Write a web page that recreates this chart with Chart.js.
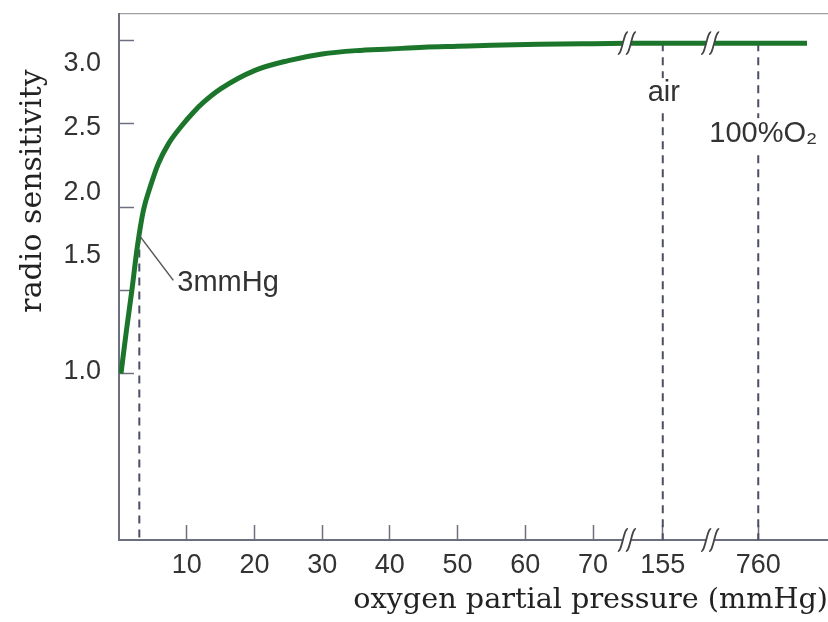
<!DOCTYPE html>
<html>
<head>
<meta charset="utf-8">
<script src="https://cdn.jsdelivr.net/npm/chart.js@4.4.1/dist/chart.umd.min.js"></script>
<style>
  html, body { margin: 0; padding: 0; background: #fff; }
</style>
</head>
<body>
<canvas id="myChart" width="828" height="622"></canvas>
<script>
// curve: oxygen partial pressure (mmHg) -> radio sensitivity
let pressure = [0.3, 0.6, 1.1, 1.9, 2.7, 3.6, 4.6, 5.8, 7.3, 9.3, 11, 12.5, 15, 20, 25, 30, 35, 40, 45, 50, 55, 62, 70, 75, 155, 760, 900];
let sensitivity = [1.00, 1.10, 1.26, 1.50, 1.76, 1.98, 2.12, 2.26, 2.38, 2.49, 2.57, 2.63, 2.71, 2.82, 2.88, 2.92, 2.94, 2.95, 2.96, 2.966, 2.972, 2.978, 2.982, 2.984, 2.985, 2.985, 2.985];

let xTickValues = [10, 20, 30, 40, 50, 60, 70, 155, 760];
let xTickLabels = ['10', '20', '30', '40', '50', '60', '70', '155', '760'];
let yTickValues = [1.0, 1.5, 2.0, 2.5, 3.0];
let yTickLabels = ['1.0', '1.5', '2.0', '2.5', '3.0'];
// the printed y labels do not sit on their tick marks in the original
let yLabelAt = [1.01, 1.71, 2.09, 2.48, 2.86];

// dashed markers
let markerPressure = [3, 155, 760];
let markerValue = [1.83, 2.985, 2.985];
let markerText = ['3mmHg', 'air', '100%O\u2082'];

// broken x axis: pressure -> position on the linear scale
let axisKnots = [0, 75, 155, 760, 900];
let axisSpots = [0, 75, 80.3, 94.4, 101.6];
let breakSpots = [75, 87.3];

function pos(p) {
  for (let i = 1; i < axisKnots.length; i++) {
    if (p <= axisKnots[i]) {
      let t = (p - axisKnots[i - 1]) / (axisKnots[i] - axisKnots[i - 1]);
      return axisSpots[i - 1] + t * (axisSpots[i] - axisSpots[i - 1]);
    }
  }
  return axisSpots[axisSpots.length - 1];
}

let axisColor = '#6c6f80';
let textColor = '#333';
let labelFont = '29px "Liberation Sans"';

let extras = {
  id: 'extras',
  beforeDatasetsDraw(chart) {
    let {ctx, scales: {x, y}} = chart;
    ctx.save();
    ctx.strokeStyle = '#4b4f66';
    ctx.lineWidth = 2;
    ctx.setLineDash([8, 6]);
    markerPressure.forEach((p, i) => {
      let px = x.getPixelForValue(pos(p));
      ctx.beginPath();
      ctx.moveTo(px, y.getPixelForValue(markerValue[i]));
      ctx.lineTo(px, y.bottom);
      ctx.stroke();
    });
    ctx.restore();
  },
  afterDatasetsDraw(chart) {
    let {ctx, scales: {x, y}} = chart;
    ctx.save();

    // break marks on the axis and on the curve
    breakSpots.forEach(b => {
      let px = x.getPixelForValue(b);
      [[y.bottom, 11], [y.getPixelForValue(markerValue[1]), 11]].forEach(([py, h]) => {
        ctx.fillStyle = '#fff';
        ctx.fillRect(px - 4, py - 5, 8, 10);
        ctx.strokeStyle = '#444';
        ctx.lineWidth = 1.8;
        [-4, 4].forEach(dx => {
          ctx.beginPath();
          ctx.moveTo(px + dx - 5, py + h);
          ctx.bezierCurveTo(px + dx - 1, py + h + 1, px + dx + 1, py - h - 1, px + dx + 5, py - h);
          ctx.stroke();
        });
      });
    });

    ctx.font = labelFont;
    ctx.fillStyle = textColor;
    ctx.textBaseline = 'middle';

    // 3mmHg with leader line
    let mx = x.getPixelForValue(pos(markerPressure[0]));
    let my = y.getPixelForValue(markerValue[0]);
    ctx.strokeStyle = '#555';
    ctx.lineWidth = 1.5;
    ctx.beginPath();
    ctx.moveTo(mx, my);
    ctx.lineTo(mx + 34, my + 45);
    ctx.stroke();
    ctx.textAlign = 'left';
    ctx.fillText(markerText[0], mx + 38, my + 48);

    // air
    mx = x.getPixelForValue(pos(markerPressure[1]));
    my = y.getPixelForValue(markerValue[1]);
    let w = ctx.measureText(markerText[1]).width;
    ctx.fillStyle = '#fff';
    ctx.fillRect(mx + 1 - w / 2 - 3, my + 50 - 15, w + 6, 30);
    ctx.fillStyle = textColor;
    ctx.textAlign = 'center';
    ctx.fillText(markerText[1], mx + 1, my + 50);

    // 100%O2
    mx = x.getPixelForValue(pos(markerPressure[2]));
    my = y.getPixelForValue(markerValue[2]);
    w = ctx.measureText(markerText[2]).width;
    ctx.fillStyle = '#fff';
    ctx.fillRect(mx - 52, my + 91 - 16, w + 6, 32);
    ctx.fillStyle = textColor;
    ctx.textAlign = 'left';
    ctx.fillText(markerText[2], mx - 49, my + 91);

    ctx.restore();
  },
  afterDraw(chart) {
    // y axis title, placed high like the original
    let {ctx, chartArea} = chart;
    ctx.save();
    ctx.translate(chart.scales.y.left + 33, chartArea.top + 177);
    ctx.rotate(-Math.PI / 2);
    ctx.font = '30px "DejaVu Serif"';
    ctx.fillStyle = '#222';
    ctx.textAlign = 'center';
    ctx.textBaseline = 'middle';
    ctx.fillText('radio sensitivity', 0, 0);
    ctx.restore();
  }
};

let curve = pressure.map((p, i) => ({x: pos(p), y: sensitivity[i]}));

new Chart(document.getElementById('myChart'), {
  type: 'line',
  data: {
    datasets: [{
      data: curve,
      borderColor: '#1b762b',
      borderWidth: 5,
      pointRadius: 0,
      cubicInterpolationMode: 'monotone',
      fill: false
    }]
  },
  options: {
    responsive: false,
    animation: false,
    layout: { padding: 0 },
    plugins: {
      legend: { display: false },
      tooltip: { enabled: false }
    },
    scales: {
      x: {
        type: 'linear',
        position: 'bottom',
        min: 0,
        max: 104.7,
        afterBuildTicks: s => { s.ticks = xTickValues.map(p => ({value: pos(p)})); },
        afterFit: s => { s.height = 82; s.paddingLeft = 0; s.paddingRight = 0; },
        ticks: {
          autoSkip: false,
          maxRotation: 0,
          padding: 24,
          color: textColor,
          font: { family: 'Liberation Sans', size: 27 },
          callback: (v, i) => xTickLabels[i]
        },
        grid: { drawOnChartArea: false, drawTicks: true, tickLength: -15, tickWidth: 1.5, color: axisColor },
        border: { color: axisColor, width: 2 },
        title: {
          display: true,
          text: 'oxygen partial pressure (mmHg)',
          align: 'end',
          color: '#222',
          font: { family: 'DejaVu Serif', size: 28.7 },
          padding: { top: 0, bottom: 4 }
        }
      },
      xTop: {
        type: 'linear',
        position: 'top',
        min: 0,
        max: 104.7,
        afterFit: s => { s.height = 14; },
        ticks: { display: false },
        grid: { display: false, drawTicks: false },
        border: { color: '#a0a0a0', width: 1.2 }
      },
      y: {
        type: 'linear',
        min: 0,
        max: 3.16,
        afterBuildTicks: s => {
          s.ticks = yTickValues.concat(yLabelAt.slice(1)).sort((a, b) => a - b).map(v => ({value: v}));
          s.ticks.splice(1, 0, {value: yLabelAt[0]});
        },
        afterFit: s => { s.width = 119; s.paddingTop = 0; s.paddingBottom = 0; },
        ticks: {
          autoSkip: false,
          padding: 33,
          color: textColor,
          font: { family: 'Liberation Sans', size: 27 },
          callback: v => {
            let i = yLabelAt.indexOf(v);
            return i >= 0 ? yTickLabels[i] : '';
          }
        },
        grid: {
          drawOnChartArea: false,
          drawTicks: true,
          tickLength: -15,
          tickWidth: 1.5,
          color: c => (c.tick && yTickValues.includes(c.tick.value)) ? axisColor : 'rgba(0,0,0,0)'
        },
        border: { color: axisColor, width: 2 }
      }
    }
  },
  plugins: [extras]
});
</script>
</body>
</html>
